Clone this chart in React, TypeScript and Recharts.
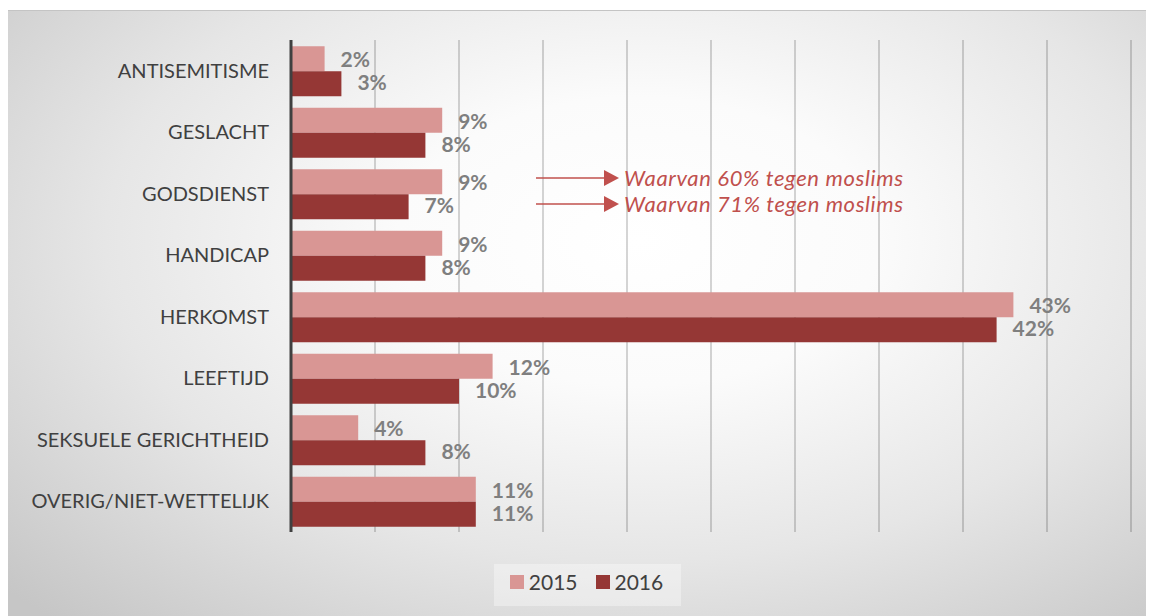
import React from 'react';
import {
  BarChart,
  Bar,
  XAxis,
  YAxis,
  CartesianGrid,
  LabelList,
  Legend,
  ReferenceLine,
} from 'recharts';

const categories = [
  'ANTISEMITISME',
  'GESLACHT',
  'GODSDIENST',
  'HANDICAP',
  'HERKOMST',
  'LEEFTIJD',
  'SEKSUELE GERICHTHEID',
  'OVERIG/NIET-WETTELIJK',
];
const values2015 = [2, 9, 9, 9, 43, 12, 4, 11];
const values2016 = [3, 8, 7, 8, 42, 10, 8, 11];
const xTicks = [0, 5, 10, 15, 20, 25, 30, 35, 40, 45, 50];
const seriesNames = ['2015', '2016'];
const seriesColors = ['#d99694', '#953735'];
const notes = ['Waarvan 60% tegen moslims', 'Waarvan 71% tegen moslims'];

const FONT = 'Lato, "Open Sans", sans-serif';
const NOTE_RED = '#c0504d';
const X_MAX = 50;

const data = categories.map((name, i) => ({
  name,
  y2015: values2015[i],
  y2016: values2016[i],
}));

// vertical gridlines at the x ticks, through the axis scale when we get one
const gridX = (props: any) => {
  const scale = props?.xAxis?.scale;
  if (scale && typeof scale === 'function') return xTicks.slice(1).map((t) => scale(t));
  const off = props.offset;
  return xTicks.slice(1).map((t) => off.left + (t / X_MAX) * off.width);
};

function LegendBox() {
  return (
    <div style={{ height: 74, display: 'flex', alignItems: 'flex-end', justifyContent: 'center' }}>
      <div
        style={{
          display: 'flex',
          alignItems: 'center',
          gap: 18,
          padding: '5px 18px 12px 16px',
          background: 'rgba(255,255,255,0.35)',
          fontFamily: FONT,
          fontSize: 21,
          color: '#404040',
          marginLeft: 36,
        }}
      >
        {seriesNames.map((s, i) => (
          <span key={s} style={{ display: 'flex', alignItems: 'center', gap: 5 }}>
            <span style={{ width: 14, height: 14, background: seriesColors[i], display: 'inline-block' }} />
            {s}
          </span>
        ))}
      </div>
    </div>
  );
}

export default function App() {
  return (
    <div
      style={{
        position: 'relative',
        marginTop: 2,
        width: 1146,
        height: 606,
        borderTop: '1px solid #c4c4c4',
        background:
          'radial-gradient(ellipse 75% 85% at 55% 38%, #ffffff 0%, #fbfbfb 28%, #e6e6e6 62%, #c6c6c6 100%)',
        overflow: 'hidden',
      }}
    >
      <BarChart
        layout="vertical"
        width={1146}
        height={605}
        data={data}
        margin={{ top: 29, right: 23, bottom: 10, left: 0 }}
        barCategoryGap="10%"
        barGap={0}
      >
        <CartesianGrid
          horizontal={false}
          verticalCoordinatesGenerator={gridX}
          stroke="#000"
          strokeOpacity={0.22}
          strokeWidth={1.5}
        />
        <XAxis
          type="number"
          domain={[0, X_MAX]}
          ticks={xTicks}
          tick={false}
          axisLine={false}
          tickLine={false}
          height={0}
        />
        <YAxis
          type="category"
          dataKey="name"
          width={283}
          axisLine={false}
          tickLine={false}
          tickMargin={16}
          tick={{ fill: '#404040', fontSize: 20, fontFamily: FONT }}
          interval={0}
        />
        <Legend verticalAlign="bottom" content={() => <LegendBox />} />
        <Bar dataKey="y2015" name={seriesNames[0]} fill={seriesColors[0]} isAnimationActive={false}>
          <LabelList
            dataKey="y2015"
            position="right"
            offset={16}
            formatter={(v: number) => `${v}%`}
            fill="#7f7f7f"
            fontSize={21}
            fontWeight="bold"
            fontFamily={FONT}
            dy={1}
          />
        </Bar>
        <Bar dataKey="y2016" name={seriesNames[1]} fill={seriesColors[1]} isAnimationActive={false}>
          <LabelList
            dataKey="y2016"
            position="right"
            offset={16}
            formatter={(v: number) => `${v}%`}
            fill="#7f7f7f"
            fontSize={21}
            fontWeight="bold"
            fontFamily={FONT}
            dy={-1}
          />
        </Bar>
        <ReferenceLine x={0} stroke="#404040" strokeWidth={3} />
      </BarChart>
      <svg
        width={420}
        height={60}
        style={{ position: 'absolute', left: 520, top: 150, overflow: 'visible' }}
      >
        {notes.map((t, i) => (
          <g key={t} transform={`translate(0, ${17 + i * 26})`}>
            <line x1={8} y1={0} x2={78} y2={0} stroke={NOTE_RED} strokeWidth={1.5} />
            <polygon points="76,-8 91,0 76,8" fill={NOTE_RED} />
            <text
              x={96}
              y={8}
              fill={NOTE_RED}
              fontSize={22}
              fontStyle="italic"
              fontFamily={FONT}
              textLength={279}
              lengthAdjust="spacing"
            >
              {t}
            </text>
          </g>
        ))}
      </svg>
    </div>
  );
}
